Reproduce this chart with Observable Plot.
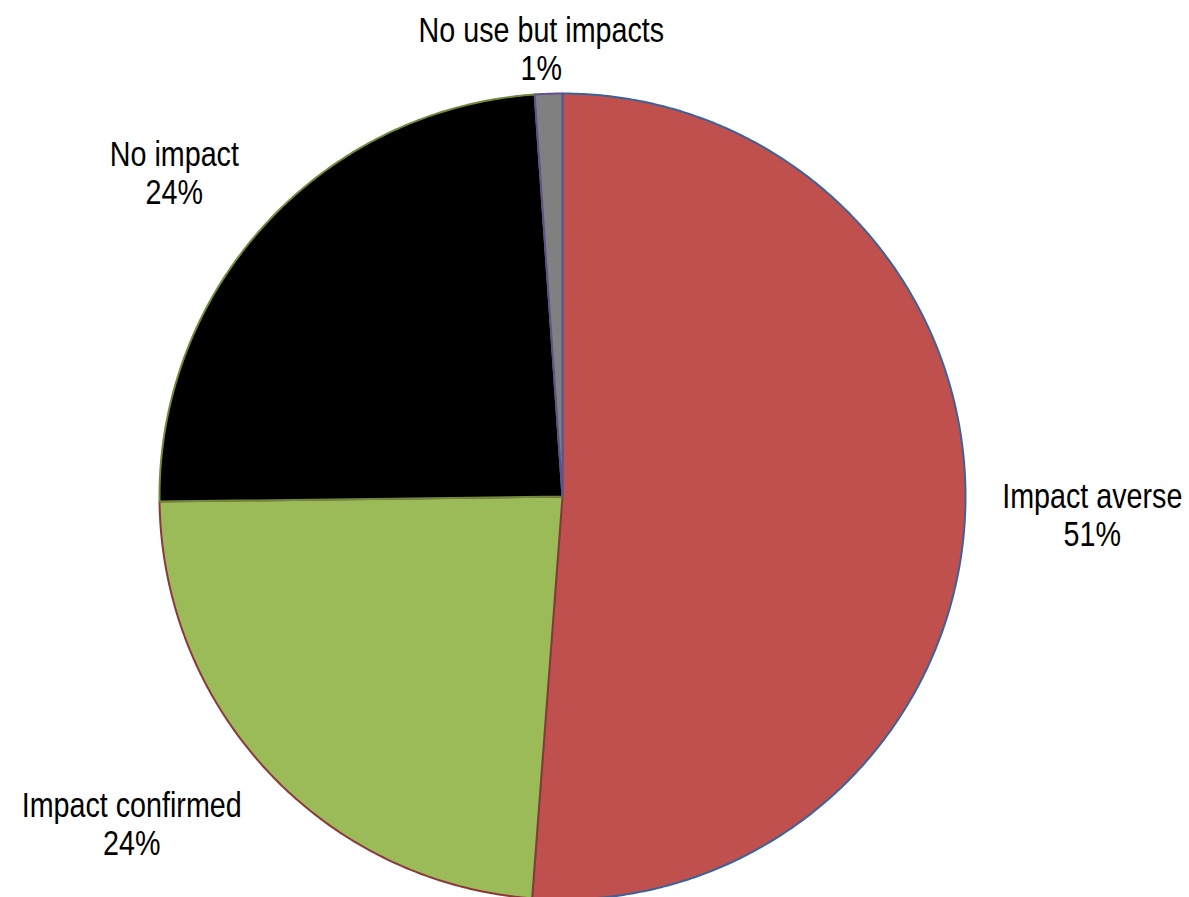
<!DOCTYPE html>
<html><head><meta charset="utf-8">
<script src="https://cdn.jsdelivr.net/npm/d3@7"></script>
<script src="https://cdn.jsdelivr.net/npm/@observablehq/plot@0.6"></script>
<style>html,body{margin:0;padding:0;background:#fff;overflow:hidden} #chart svg{display:block}</style>
</head><body><div id="chart"></div>
<script>
// ---- data ----
const categories = ["Impact averse", "Impact confirmed", "No impact", "No use but impacts"];
const shares = [51.2, 23.6, 24.1, 1.1];
const fillColors = ["#C0504D", "#9BBB59", "#000000", "#808080"];
const strokeColors = ["#3A639A", "#8C3836", "#71893F", "#634E8E"];

// ---- layout ----
const W = 1189, H = 897, CX = 562, CY = 496, R = 403;
const FONT_SIZE = 35, LINE_H = 1.09, GAP = 37, NARROW = 0.82;
const FONT = '"Liberation Sans", Arial, sans-serif';

const arcs = d3.pie().sort(null).startAngle(0).endAngle(2 * Math.PI)(shares);
const polys = [];
arcs.forEach((a, i) => {
  polys.push({k: i, x: 0, y: 0});
  const n = Math.max(2, Math.ceil((a.endAngle - a.startAngle) / (Math.PI / 360)));
  for (let j = 0; j <= n; j++) {
    const t = a.startAngle + (a.endAngle - a.startAngle) * j / n;
    polys.push({k: i, x: Math.sin(t), y: Math.cos(t)});
  }
});

const ctx = document.createElement("canvas").getContext("2d");
ctx.font = `${FONT_SIZE}px ${FONT}`;
const labels = arcs.map((a, i) => {
  const lines = [categories[i], Math.round(shares[i]) + "%"];
  const w = NARROW * Math.max(...lines.map(s => ctx.measureText(s).width)) / R;
  const h = lines.length * FONT_SIZE * LINE_H / R;
  const m = (a.startAngle + a.endAngle) / 2;
  const ux = Math.sin(m), uy = Math.cos(m);
  const d = 1 + GAP / R;
  const x = d * ux + (w / 2) * Math.max(-1, Math.min(1, ux * 1.4));
  let y = d * uy + (h / 2) * uy;
  const yMax = (CY - 10) / R - h / 2;
  y = Math.min(y, yMax);
  return {text: lines.join("\n"), x, y};
});

const chart = Plot.plot({
  width: W, height: H, margin: 0,
  style: {background: "#fff"},
  x: {domain: [-1, 1], range: [CX - R, CX + R], axis: null},
  y: {domain: [-1, 1], range: [CY + R, CY - R], axis: null},
  color: {type: "identity"},
  marks: [
    Plot.line(polys, {
      x: "x", y: "y", z: "k",
      fill: d => fillColors[d.k], stroke: d => strokeColors[d.k],
      strokeWidth: 2, curve: "linear-closed", strokeLinejoin: "round"
    }),
    Plot.text(labels, {
      x: "x", y: "y", text: "text",
      fontSize: FONT_SIZE, lineHeight: LINE_H, fontFamily: FONT,
      fill: "#000", textAnchor: "middle", lineAnchor: "middle",
      className: "pie-label"
    })
  ]
});
// narrow the label glyphs horizontally (Arial Narrow look)
d3.select(chart).selectAll("g.pie-label text").each(function() {
  const t = this.getAttribute("transform") || "";
  this.setAttribute("transform", `${t} scale(${NARROW},1)`);
});
document.getElementById("chart").appendChild(chart);
</script>
</body></html>
